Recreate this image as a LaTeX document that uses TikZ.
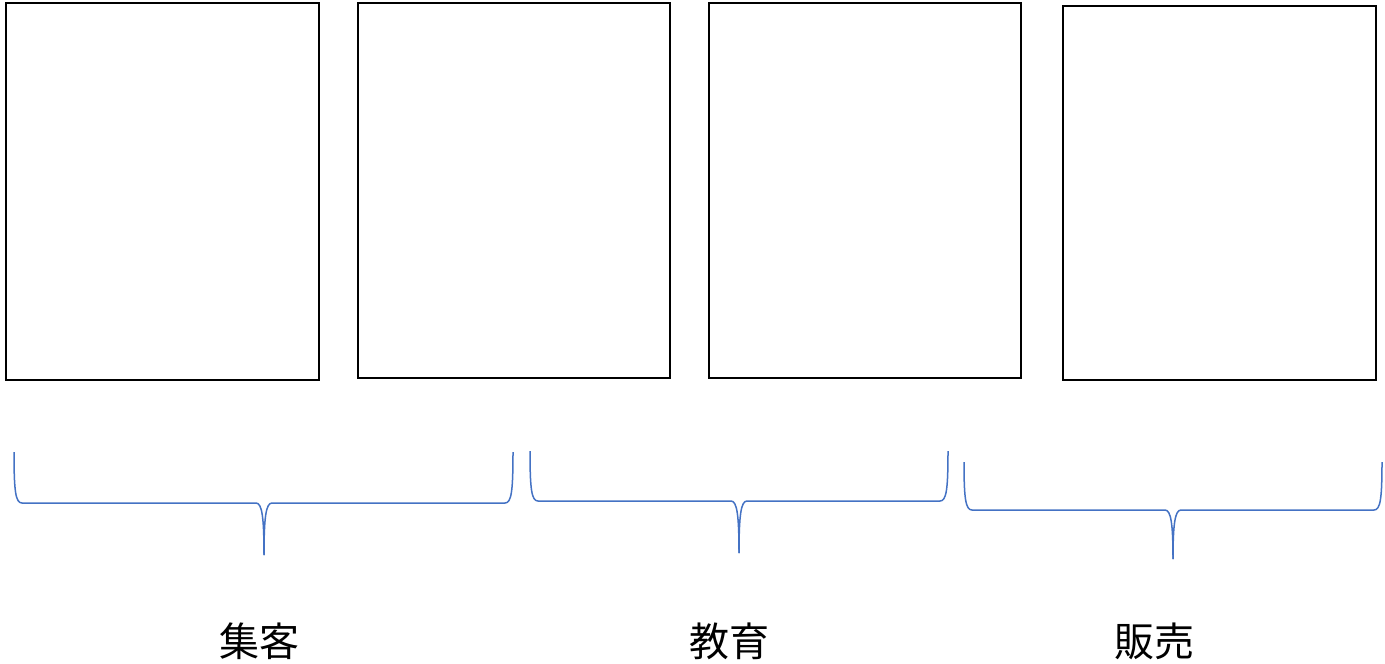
\documentclass[tikz,border=0pt]{standalone}
\usepackage{fontspec}
\newfontfamily\cjk{Noto Sans CJK JP}
\definecolor{braceblue}{HTML}{4472C4}
\newcommand{\mybrace}[6]{% x0, x1, xtip, ytop, yh, ytip
  \draw[bracestyle] (#1,#4) .. controls (#1,#5-12) and (#1+1.5,#5) .. (#1+8,#5)
    -- (#3-8,#5) .. controls (#3-2,#5) and (#3,#5+14) .. (#3,#6);
  \draw[bracestyle] (#2,#4) .. controls (#2,#5-12) and (#2-1.5,#5) .. (#2-8,#5)
    -- (#3+8,#5) .. controls (#3+2,#5) and (#3,#5+14) .. (#3,#6);
}
\begin{document}
\begin{tikzpicture}[x=1pt,y=-1pt,
  box/.style={draw=black, line width=2.4pt, fill=white, inner sep=0pt},
  bracestyle/.style={draw=braceblue, line width=1.5pt, line join=round},
  label/.style={font=\cjk\fontsize{40}{44}\selectfont, inner sep=0pt}]
\useasboundingbox (0,0) rectangle (1385,664);
\fill[white] (0,0) rectangle (1385,664);
\node[box, minimum width=313pt, minimum height=377pt] (b1) at (162.5,191.5) {};
\node[box, minimum width=312pt, minimum height=375pt] (b2) at (514,190.5) {};
\node[box, minimum width=312pt, minimum height=375pt] (b3) at (865,190.5) {};
\node[box, minimum width=313pt, minimum height=374pt] (b4) at (1219.5,193) {};
\mybrace{14}{513}{264}{452}{503}{555}
\mybrace{530}{948}{739}{451}{501}{553}
\mybrace{964}{1382}{1173}{462}{510}{559}
\node[label] (t1) at (259,641) {集客};
\node[label] (t2) at (729,641) {教育};
\node[label] (t3) at (1154,641) {販売};
\end{tikzpicture}
\end{document}
